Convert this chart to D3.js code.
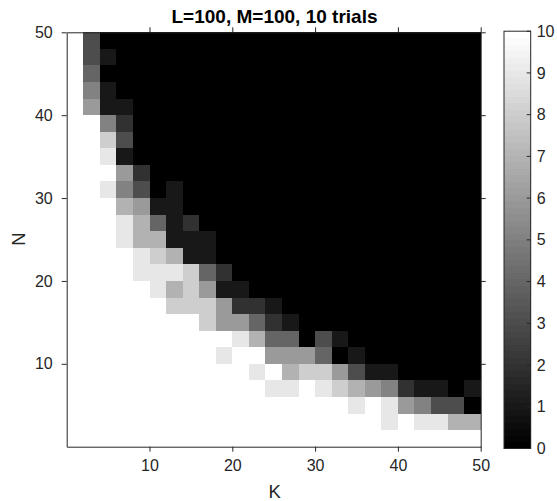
<!DOCTYPE html>
<html>
<head>
<meta charset="utf-8">
<script src="https://cdn.jsdelivr.net/npm/d3@7"></script>
<style>
  html, body { margin: 0; padding: 0; background: #fff; }
  svg { display: block; }
  text { font-family: "Liberation Sans", Arial, Helvetica, sans-serif; }
</style>
</head>
<body>
<svg id="chart" width="557" height="501"></svg>
<script>
// ---- data ----
const titleText = "L=100, M=100, 10 trials";
const xLabel = "K";
const yLabel = "N";
// cell centres (K, N)
const kValues = [1,3,5,7,9,11,13,15,17,19,21,23,25,27,29,31,33,35,37,39,41,43,45,47,49];
const nValues = [49,47,45,43,41,39,37,35,33,31,29,27,25,23,21,19,17,15,13,11,9,7,5,3,1];
// successes out of 10 trials, one row per N (top row N=49 ... bottom row N=1), columns K=1..49
const successes = [
  [10,3,0,0,0,0,0,0,0,0,0,0,0,0,0,0,0,0,0,0,0,0,0,0,0],
  [10,3,1,0,0,0,0,0,0,0,0,0,0,0,0,0,0,0,0,0,0,0,0,0,0],
  [10,4,0,0,0,0,0,0,0,0,0,0,0,0,0,0,0,0,0,0,0,0,0,0,0],
  [10,5,1,0,0,0,0,0,0,0,0,0,0,0,0,0,0,0,0,0,0,0,0,0,0],
  [10,6,1,1,0,0,0,0,0,0,0,0,0,0,0,0,0,0,0,0,0,0,0,0,0],
  [10,10,5,2,0,0,0,0,0,0,0,0,0,0,0,0,0,0,0,0,0,0,0,0,0],
  [10,10,8,3,0,0,0,0,0,0,0,0,0,0,0,0,0,0,0,0,0,0,0,0,0],
  [10,10,9,1,0,0,0,0,0,0,0,0,0,0,0,0,0,0,0,0,0,0,0,0,0],
  [10,10,10,6,2,0,0,0,0,0,0,0,0,0,0,0,0,0,0,0,0,0,0,0,0],
  [10,10,9,5,3,0,1,0,0,0,0,0,0,0,0,0,0,0,0,0,0,0,0,0,0],
  [10,10,10,7,6,1,1,0,0,0,0,0,0,0,0,0,0,0,0,0,0,0,0,0,0],
  [10,10,10,9,7,4,1,2,0,0,0,0,0,0,0,0,0,0,0,0,0,0,0,0,0],
  [10,10,10,9,7,7,1,1,1,0,0,0,0,0,0,0,0,0,0,0,0,0,0,0,0],
  [10,10,10,10,9,8,7,1,1,0,0,0,0,0,0,0,0,0,0,0,0,0,0,0,0],
  [10,10,10,10,9,9,9,8,4,2,0,0,0,0,0,0,0,0,0,0,0,0,0,0,0],
  [10,10,10,10,10,9,7,8,6,1,1,0,0,0,0,0,0,0,0,0,0,0,0,0,0],
  [10,10,10,10,10,10,8,8,8,6,2,2,1,0,0,0,0,0,0,0,0,0,0,0,0],
  [10,10,10,10,10,10,10,10,8,6,6,4,2,1,0,0,0,0,0,0,0,0,0,0,0],
  [10,10,10,10,10,10,10,10,10,10,9,7,4,4,0,3,1,0,0,0,0,0,0,0,0],
  [10,10,10,10,10,10,10,10,10,9,10,10,6,6,6,4,0,1,0,0,0,0,0,0,0],
  [10,10,10,10,10,10,10,10,10,10,10,9,10,7,8,8,6,3,1,1,0,0,0,0,0],
  [10,10,10,10,10,10,10,10,10,10,10,10,9,9,10,9,8,7,6,5,2,1,1,0,1],
  [10,10,10,10,10,10,10,10,10,10,10,10,10,10,10,10,10,9,10,9,6,5,3,3,0],
  [10,10,10,10,10,10,10,10,10,10,10,10,10,10,10,10,10,10,10,9,10,9,9,7,7],
  [10,10,10,10,10,10,10,10,10,10,10,10,10,10,10,10,10,10,10,10,10,10,10,10,10]
];
const xTicks = [10,20,30,40,50];
const yTicks = [10,20,30,40,50];
const cbTicks = [0,1,2,3,4,5,6,7,8,9,10];
const cellHalf = 1; // each cell covers K-1..K+1, N-1..N+1

// ---- layout ----
const plot = { left: 66.7, right: 480.7, top: 32.3, bottom: 446.7 };
const cb = { left: 504, right: 530.7, top: 31.2, bottom: 448.5 };
const axisColor = "#262626";

const svg = d3.select("#chart");

const x = d3.scaleLinear().domain([0, 50]).range([plot.left, plot.right]);
const y = d3.scaleLinear().domain([0, 50]).range([plot.bottom, plot.top]);

// MATLAB-like 64-level gray colormap
const nLevels = 64;
function grayOf(v) {
  let idx = Math.floor(v / 10 * nLevels);
  idx = Math.max(0, Math.min(nLevels - 1, idx));
  const g = Math.round(idx / (nLevels - 1) * 255);
  return d3.rgb(g, g, g).toString();
}

// ---- cells ----
const cells = [];
successes.forEach((row, ri) => {
  row.forEach((v, ci) => {
    cells.push({ k: kValues[ci], n: nValues[ri], v: v });
  });
});

svg.append("g")
  .attr("shape-rendering", "crispEdges")
  .selectAll("rect")
  .data(cells)
  .join("rect")
  .attr("x", d => x(d.k - cellHalf))
  .attr("y", d => y(d.n + cellHalf))
  .attr("width", d => x(d.k + cellHalf) - x(d.k - cellHalf) + 0.5)
  .attr("height", d => y(d.n - cellHalf) - y(d.n + cellHalf) + 0.5)
  .attr("fill", d => grayOf(d.v));

// ---- axes ----
const tickLen = 5;
const fontTick = "16px";

const xAxisB = svg.append("g")
  .attr("transform", `translate(0,${plot.bottom})`)
  .call(d3.axisBottom(x).tickValues(xTicks).tickSize(tickLen).tickPadding(8).tickSizeOuter(0));
const xAxisT = svg.append("g")
  .attr("transform", `translate(0,${plot.top})`)
  .call(d3.axisTop(x).tickValues(xTicks).tickSize(tickLen).tickFormat("").tickSizeOuter(0));
const yAxisL = svg.append("g")
  .attr("transform", `translate(${plot.left},0)`)
  .call(d3.axisLeft(y).tickValues(yTicks).tickSize(tickLen).tickPadding(9).tickSizeOuter(0));
const yAxisR = svg.append("g")
  .attr("transform", `translate(${plot.right},0)`)
  .call(d3.axisRight(y).tickValues(yTicks).tickSize(tickLen).tickFormat("").tickSizeOuter(0));

[xAxisB, xAxisT, yAxisL, yAxisR].forEach(g => {
  g.select(".domain").attr("stroke", axisColor).attr("stroke-width", 1);
  g.selectAll(".tick line").attr("stroke", axisColor).attr("stroke-width", 1);
  g.selectAll(".tick text")
    .attr("fill", axisColor)
    .style("font-size", fontTick)
    .style("font-family", '"Liberation Sans", Arial, Helvetica, sans-serif');
});

// ---- labels ----
svg.append("text")
  .attr("x", 274.5)
  .attr("y", 22.7)
  .attr("text-anchor", "middle")
  .attr("fill", "#000")
  .style("font-size", "19px")
  .style("font-weight", "bold")
  .text(titleText);

svg.append("text")
  .attr("x", (plot.left + plot.right) / 2 + 1)
  .attr("y", 497.5)
  .attr("text-anchor", "middle")
  .attr("fill", axisColor)
  .style("font-size", "18.5px")
  .text(xLabel);

svg.append("text")
  .attr("transform", `translate(25,239) rotate(-90)`)
  .attr("text-anchor", "middle")
  .attr("fill", axisColor)
  .style("font-size", "18.5px")
  .text(yLabel);

// ---- colorbar ----
const cbScale = d3.scaleLinear().domain([0, 10]).range([cb.bottom, cb.top]);
const levels = d3.range(nLevels);
svg.append("g")
  .attr("shape-rendering", "crispEdges")
  .selectAll("rect")
  .data(levels)
  .join("rect")
  .attr("x", cb.left)
  .attr("width", cb.right - cb.left)
  .attr("y", i => cbScale((i + 1) / nLevels * 10))
  .attr("height", i => cbScale(i / nLevels * 10) - cbScale((i + 1) / nLevels * 10) + 0.5)
  .attr("fill", i => grayOf((i + 0.5) / nLevels * 10));

svg.append("rect")
  .attr("x", cb.left).attr("y", cb.top)
  .attr("width", cb.right - cb.left).attr("height", cb.bottom - cb.top)
  .attr("fill", "none").attr("stroke", axisColor).attr("stroke-width", 1);

const cbAxis = svg.append("g")
  .attr("transform", `translate(${cb.right},0)`)
  .call(d3.axisRight(cbScale).tickValues(cbTicks).tickSize(0).tickPadding(6).tickSizeOuter(0));
cbAxis.select(".domain").remove();
cbAxis.selectAll(".tick text")
  .attr("fill", axisColor)
  .style("font-size", fontTick)
  .style("font-family", '"Liberation Sans", Arial, Helvetica, sans-serif');
// inward tick marks on the colorbar
svg.append("g")
  .selectAll("line")
  .data(cbTicks)
  .join("line")
  .attr("x1", cb.right - 4).attr("x2", cb.right)
  .attr("y1", d => cbScale(d)).attr("y2", d => cbScale(d))
  .attr("stroke", axisColor).attr("stroke-width", 1);
</script>
</body>
</html>
